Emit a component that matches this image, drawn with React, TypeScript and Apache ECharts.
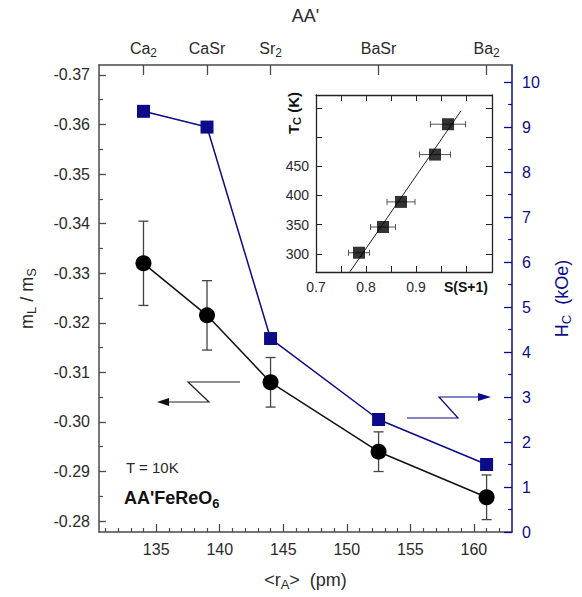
import React, { useEffect, useRef } from "react";
import * as echarts from "echarts";

// ---- data ----
const compoundLabels = ["Ca{s|2}", "CaSr", "Sr{s|2}", "BaSr", "Ba{s|2}"];
const rA = [134, 139, 144, 152.5, 161];
const mLmS = [-0.332, -0.3215, -0.308, -0.294, -0.2848];
const mLmSErr = [0.0085, 0.007, 0.005, 0.004, 0.0045];
const Hc = [9.35, 9.0, 4.3, 2.5, 1.5];

const insetSS1 = [0.786, 0.834, 0.87, 0.938, 0.964];
const insetTc = [302, 346, 389, 470, 522];
const insetErr = [0.021, 0.025, 0.028, 0.031, 0.035];
const fitLine = [
  [0.768, 269.5],
  [0.99, 545],
];

const xMajor = [135, 140, 145, 150, 155, 160];
const xMinor = [131, 132, 133, 134, 136, 137, 138, 139, 141, 142, 143, 144, 146, 147, 148, 149, 151, 152, 153, 154, 156, 157, 158, 159, 161, 162];
const yLeftMajor = [-0.37, -0.36, -0.35, -0.34, -0.33, -0.32, -0.31, -0.3, -0.29, -0.28];
const yLeftMinor = [-0.365, -0.355, -0.345, -0.335, -0.325, -0.315, -0.305, -0.295, -0.285];
const yRightMajor = [0, 1, 2, 3, 4, 5, 6, 7, 8, 9, 10];
const yRightMinor = [0.5, 1.5, 2.5, 3.5, 4.5, 5.5, 6.5, 7.5, 8.5, 9.5];
const insetXTicks = [0.7, 0.75, 0.8, 0.85, 0.9, 0.95, 1.0];
const insetXLabels = [0.7, 0.8, 0.9, 1.0];
const insetYTicks = [300, 350, 400, 450, 500, 550];
const insetYLabels = [300, 350, 400, 450];

const FONT = "Liberation Sans";
const NAVY = "#0c0c88";
const AXIS = "#4a4a4a";
const TXT = "#2a2a2a";

const sub = (size: number, pad: number, extra: any = {}) => ({
  fontSize: size,
  lineHeight: size,
  padding: [pad, 0, 0, 0],
  fontFamily: FONT,
  ...extra,
});

function errBarV(color: string, cap: number) {
  return (params: any, api: any) => {
    const x = api.value(0);
    const lo = api.coord([x, api.value(1)]);
    const hi = api.coord([x, api.value(2)]);
    const st = { stroke: color, lineWidth: 1.3 };
    return {
      type: "group",
      children: [
        { type: "line", shape: { x1: lo[0], y1: lo[1], x2: hi[0], y2: hi[1] }, style: st },
        { type: "line", shape: { x1: lo[0] - cap, y1: lo[1], x2: lo[0] + cap, y2: lo[1] }, style: st },
        { type: "line", shape: { x1: hi[0] - cap, y1: hi[1], x2: hi[0] + cap, y2: hi[1] }, style: st },
      ],
    };
  };
}

function errBarH(color: string, cap: number) {
  return (params: any, api: any) => {
    const y = api.value(2);
    const lo = api.coord([api.value(0), y]);
    const hi = api.coord([api.value(1), y]);
    const st = { stroke: color, lineWidth: 1 };
    return {
      type: "group",
      children: [
        { type: "line", shape: { x1: lo[0], y1: lo[1], x2: hi[0], y2: hi[1] }, style: st },
        { type: "line", shape: { x1: lo[0], y1: lo[1] - cap, x2: lo[0], y2: lo[1] + cap }, style: st },
        { type: "line", shape: { x1: hi[0], y1: hi[1] - cap, x2: hi[0], y2: hi[1] + cap }, style: st },
      ],
    };
  };
}

export default function App() {
  const ref = useRef<HTMLDivElement>(null);
  useEffect(() => {
    document.body.style.margin = "0";
    const chart = echarts.init(ref.current!, null, { renderer: "svg" });
    const mainX = { gridIndex: 0, type: "value", min: 130.5, max: 163, splitLine: { show: false } };
    const mainYL = { gridIndex: 0, type: "value", min: -0.372, max: -0.2778, inverse: true, splitLine: { show: false } };
    const mainYR = { gridIndex: 0, type: "value", min: 0, max: 10.38, splitLine: { show: false } };
    const insX = { gridIndex: 1, type: "value", min: 0.7, max: 1.052, splitLine: { show: false } };
    const insY = { gridIndex: 1, type: "value", min: 269, max: 572, splitLine: { show: false } };
    const line = (c: string, w = 1.5) => ({ show: true, onZero: false, lineStyle: { color: c, width: w } });
    const noLine = { show: false, onZero: false };

    const option: any = {
      animation: false,
      backgroundColor: "#fff",
      textStyle: { fontFamily: FONT },
      grid: [
        { left: 99, top: 65, width: 413, height: 467 },
        { left: 316, top: 95, width: 176, height: 177 },
      ],
      xAxis: [
        {
          ...mainX,
          position: "bottom",
          axisLine: line(AXIS),
          axisTick: { inside: true, length: 8, customValues: xMajor, lineStyle: { color: AXIS, width: 1.3 } },
          axisLabel: { customValues: xMajor, fontSize: 16, color: TXT, margin: 9, fontFamily: FONT },
          name: "<r{s|A}>  (pm)",
          nameLocation: "middle",
          nameGap: 38,
          nameTextStyle: { fontSize: 18, color: TXT, fontFamily: FONT, lineHeight: 20, rich: { s: sub(13, 9) } },
        },
        {
          ...mainX,
          position: "bottom",
          axisLine: noLine,
          axisTick: { inside: true, length: 4, customValues: xMinor, lineStyle: { color: AXIS, width: 1.2 } },
          axisLabel: { show: false },
        },
        {
          ...mainX,
          position: "top",
          axisLine: line(AXIS),
          axisTick: { inside: true, length: 10, customValues: rA, lineStyle: { color: AXIS, width: 1.3 } },
          axisLabel: {
            customValues: rA,
            fontSize: 16,
            color: TXT,
            margin: 8,
            lineHeight: 18,
            fontFamily: FONT,
            formatter: (v: number) => compoundLabels[rA.indexOf(v)] ?? "",
            rich: { s: sub(12, 9) },
          },
          name: "AA'",
          nameLocation: "middle",
          nameGap: 40,
          nameTextStyle: { fontSize: 18, color: TXT, fontFamily: FONT },
        },
        {
          ...insX,
          position: "bottom",
          axisLine: line("#222", 1.3),
          axisTick: { inside: true, length: 6, customValues: insetXTicks, lineStyle: { color: "#222" } },
          axisLabel: {
            customValues: insetXLabels,
            fontSize: 14,
            color: TXT,
            margin: 8,
            fontFamily: FONT,
            formatter: (v: number) => (Math.abs(v - 1) < 1e-6 ? "{b|S(S+1)}" : v.toFixed(1)),
            rich: { b: { fontWeight: "bold", fontSize: 14, fontFamily: FONT, color: "#111" } },
          },
        },
        {
          ...insX,
          position: "top",
          axisLine: line("#222", 1.3),
          axisTick: { inside: true, length: 6, customValues: insetXTicks, lineStyle: { color: "#222" } },
          axisLabel: { show: false },
        },
      ],
      yAxis: [
        {
          ...mainYL,
          position: "left",
          axisLine: line(AXIS),
          axisTick: { inside: true, length: 7, customValues: yLeftMajor, lineStyle: { color: AXIS, width: 1.3 } },
          axisLabel: { customValues: yLeftMajor, fontSize: 16, color: TXT, margin: 9, fontFamily: FONT, formatter: (v: number) => v.toFixed(2) },
          name: "m{s|L} / m{s|S}",
          nameLocation: "middle",
          nameRotate: 90,
          nameGap: 62,
          nameTextStyle: { fontSize: 18, color: TXT, fontFamily: FONT, lineHeight: 20, rich: { s: sub(13, 9) } },
        },
        {
          ...mainYL,
          position: "left",
          axisLine: noLine,
          axisTick: { inside: true, length: 4, customValues: yLeftMinor, lineStyle: { color: AXIS, width: 1.2 } },
          axisLabel: { show: false },
        },
        {
          ...mainYR,
          position: "right",
          axisLine: line(NAVY),
          axisTick: { inside: true, length: 8, customValues: yRightMajor, lineStyle: { color: NAVY, width: 1.3 } },
          axisLabel: { customValues: yRightMajor, fontSize: 16, color: NAVY, margin: 10, fontFamily: FONT },
          name: "H{s|C}  (kOe)",
          nameLocation: "middle",
          nameRotate: 90,
          nameGap: 32,
          nameTextStyle: { fontSize: 18, color: NAVY, fontFamily: FONT, lineHeight: 20, rich: { s: sub(13, 9, { color: NAVY }) } },
        },
        {
          ...mainYR,
          position: "right",
          axisLine: noLine,
          axisTick: { inside: true, length: 4, customValues: yRightMinor, lineStyle: { color: NAVY, width: 1.2 } },
          axisLabel: { show: false },
        },
        {
          ...insY,
          position: "left",
          axisLine: line("#222", 1.3),
          axisTick: { inside: true, length: 6, customValues: insetYTicks, lineStyle: { color: "#222" } },
          axisLabel: { customValues: insetYLabels, fontSize: 14, color: TXT, margin: 7, fontFamily: FONT },
        },
        {
          ...insY,
          position: "right",
          axisLine: line("#222", 1.3),
          axisTick: { inside: true, length: 6, customValues: insetYTicks, lineStyle: { color: "#222" } },
          axisLabel: { show: false },
        },
      ],
      series: [
        {
          type: "custom",
          xAxisIndex: 0,
          yAxisIndex: 0,
          renderItem: errBarV("#444", 5),
          encode: { x: 0, y: [1, 2] },
          data: rA.map((x, i) => [x, mLmS[i] - mLmSErr[i], mLmS[i] + mLmSErr[i]]),
          z: 2,
        },
        {
          type: "line",
          xAxisIndex: 0,
          yAxisIndex: 0,
          data: rA.map((x, i) => [x, mLmS[i]]),
          symbol: "circle",
          symbolSize: 16,
          itemStyle: { color: "#000" },
          lineStyle: { color: "#111", width: 1.5 },
          z: 3,
        },
        {
          type: "line",
          xAxisIndex: 0,
          yAxisIndex: 2,
          data: rA.map((x, i) => [x, Hc[i]]),
          symbol: "rect",
          symbolSize: 13,
          itemStyle: { color: NAVY },
          lineStyle: { color: NAVY, width: 1.5 },
          z: 3,
        },
        {
          type: "line",
          xAxisIndex: 3,
          yAxisIndex: 4,
          data: fitLine,
          symbol: "none",
          lineStyle: { color: "#222", width: 1 },
          z: 2,
        },
        {
          type: "custom",
          xAxisIndex: 3,
          yAxisIndex: 4,
          renderItem: errBarH("#555", 3),
          encode: { x: [0, 1], y: 2 },
          data: insetSS1.map((x, i) => [x - insetErr[i], x + insetErr[i], insetTc[i]]),
          z: 2,
        },
        {
          type: "scatter",
          xAxisIndex: 3,
          yAxisIndex: 4,
          data: insetSS1.map((x, i) => [x, insetTc[i]]),
          symbol: "rect",
          symbolSize: 12,
          itemStyle: { color: "#000" },
          z: 3,
        },
      ],
      graphic: [
        {
          type: "text",
          x: 293,
          y: 113,
          rotation: Math.PI / 2,
          style: {
            text: "T{s|C} (K)",
            fontFamily: FONT,
            fontSize: 15,
            fontWeight: "bold",
            fill: "#111",
            align: "center",
            verticalAlign: "middle",
            lineHeight: 18,
            rich: { s: sub(11, 8, { fontWeight: "bold" }) },
          },
        },
        {
          type: "text",
          x: 126,
          y: 467,
          style: { text: "T = 10K", fontFamily: FONT, fontSize: 15, fill: TXT, align: "left", verticalAlign: "middle" },
        },
        {
          type: "text",
          x: 124,
          y: 498,
          style: {
            text: "AA'FeReO{s|6}",
            fontFamily: FONT,
            fontSize: 18,
            fontWeight: "bold",
            fill: "#111",
            align: "left",
            verticalAlign: "middle",
            lineHeight: 20,
            rich: { s: sub(13, 10, { fontWeight: "bold" }) },
          },
        },
        {
          type: "polyline",
          shape: { points: [[240, 382], [188, 382], [209, 402], [166, 402]] },
          style: { stroke: "#222", lineWidth: 1.2, fill: "none" },
        },
        {
          type: "polygon",
          shape: { points: [[157, 402], [169, 398], [169, 406]] },
          style: { fill: "#111" },
        },
        {
          type: "polyline",
          shape: { points: [[407, 418], [458, 418], [439, 397], [480, 397]] },
          style: { stroke: NAVY, lineWidth: 1.2, fill: "none" },
        },
        {
          type: "polygon",
          shape: { points: [[491, 397], [478, 393], [478, 401]] },
          style: { fill: NAVY },
        },
      ],
    };
    chart.setOption(option);
    return () => chart.dispose();
  }, []);
  return <div ref={ref} style={{ position: "fixed", left: 0, top: 0, width: 582, height: 597 }} />;
}
